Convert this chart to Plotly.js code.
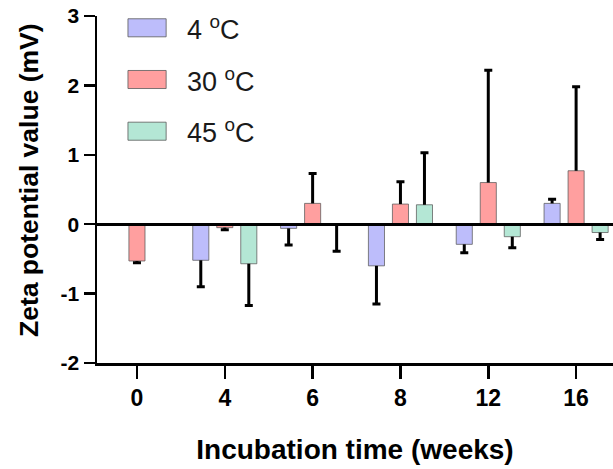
<!DOCTYPE html>
<html>
<head>
<meta charset="utf-8">
<script src="https://cdn.plot.ly/plotly-3.0.1.min.js"></script>
<style>html,body{margin:0;padding:0;background:#fff;}#chart{width:613px;height:469px;}</style>
</head>
<body>
<div id="chart"></div>
<script>
// ---- data ----
var weeks = ['0', '4', '6', '8', '12', '16'];
var yTickVals = [-2, -1, 0, 1, 2, 3];
var yTickText = ['-2', '-1', '0', '1', '2', '3'];
var seriesNames = ['4 <sup>o</sup>C', '30 <sup>o</sup>C', '45 <sup>o</sup>C'];
var mean4  = [null, -0.52, -0.06, -0.60, -0.29, 0.30];
var err4   = [null,  0.38,  0.24,  0.55,  0.12, 0.06];
var mean30 = [-0.53, -0.05, 0.30, 0.29, 0.60, 0.77];
var err30  = [ 0.025, 0.03, 0.43, 0.32, 1.62, 1.21];
var mean45 = [null, -0.57, -0.01, 0.28, -0.18, -0.12];
var err45  = [null,  0.60,  0.38, 0.75,  0.16,  0.10];
var fills  = ['#bdbdfb', '#ff9f9f', '#b4e7d5'];

var means = [mean4, mean30, mean45];
var errs = [err4, err30, err45];

var traces = [];
var capTraces = [];
means.forEach(function (m, i) {
  var e = errs[i];
  var up = m.map(function (v, k) { return v === null ? null : (v >= 0 ? e[k] : 0); });
  var dn = m.map(function (v, k) { return v === null ? null : (v < 0 ? e[k] : 0); });
  var tips = m.map(function (v, k) { return v === null ? null : (v >= 0 ? v + e[k] : v - e[k]); });
  var zeros = m.map(function () { return 0; });
  traces.push({
    type: 'bar', name: seriesNames[i], x: weeks, y: m, offsetgroup: String(i),
    marker: { color: fills[i], line: { color: 'rgba(90,90,90,0.75)', width: 1 } },
    error_y: { type: 'data', symmetric: false, array: up, arrayminus: dn, color: '#000', thickness: 3, width: 0 },
    showlegend: false, hoverinfo: 'skip'
  });
  capTraces.push({
    type: 'bar', x: weeks, y: tips, offsetgroup: String(i),
    marker: { color: 'rgba(0,0,0,0)', line: { width: 0 } },
    error_y: { type: 'data', symmetric: false, array: zeros, arrayminus: zeros, color: '#000', thickness: 3, width: 4 },
    showlegend: false, hoverinfo: 'skip'
  });
});

var FONT = 'Liberation Sans, Arial, sans-serif';

// manual legend (swatches + labels)
var shapes = [];
var annotations = [];
var legendY = [0.966, 0.817, 0.668];
seriesNames.forEach(function (n, i) {
  shapes.push({
    type: 'rect', xref: 'paper', yref: 'paper',
    x0: 0.060, x1: 0.134, y0: legendY[i] - 0.026, y1: legendY[i] + 0.026,
    fillcolor: fills[i], line: { color: 'rgba(90,90,90,0.8)', width: 1 }
  });
  annotations.push({
    xref: 'paper', yref: 'paper', x: 0.170, y: legendY[i], xanchor: 'left', yanchor: 'middle',
    text: n, showarrow: false,
    font: { family: FONT, size: 27, color: '#1a1a1a' }
  });
});
// y-axis title placed where the reference draws it
annotations.push({
  xref: 'paper', yref: 'paper', x: -0.132, y: 0.527, xanchor: 'center', yanchor: 'middle',
  textangle: -90, text: '<b>Zeta potential value (mV)</b>', showarrow: false,
  font: { family: FONT, size: 26.5, color: '#000' }
});

var layout = {
  width: 613, height: 469,
  margin: { l: 97, r: 0, t: 16, b: 106 },
  paper_bgcolor: '#fff', plot_bgcolor: '#fff',
  barmode: 'group', bargap: 0.18, bargroupgap: 0.33,
  showlegend: false,
  font: { family: FONT, color: '#000', size: 23 },
  xaxis: {
    type: 'category', range: [-0.455, 5.42],
    tickvals: weeks, ticktext: weeks.map(function (w) { return '<b>' + w + '</b>'; }),
    showline: true, linecolor: '#000', linewidth: 2.5,
    ticks: 'outside', ticklen: 13, tickwidth: 2.5, tickcolor: '#000',
    showgrid: false, zeroline: false,
    tickfont: { family: FONT, size: 23, color: '#000' },
    title: { text: '<b>Incubation time (weeks)</b>', standoff: 30,
      font: { family: FONT, size: 28, color: '#000' } }
  },
  yaxis: {
    range: [-2, 3], tickvals: yTickVals,
    ticktext: yTickText.map(function (t) { return '<b>' + t + '</b>'; }),
    showline: true, linecolor: '#000', linewidth: 2.5,
    ticks: 'outside', ticklen: 11, tickwidth: 2.5, tickcolor: '#000',
    showgrid: false, zeroline: true, zerolinecolor: '#000', zerolinewidth: 3,
    zerolinelayer: 'above traces',
    tickfont: { family: FONT, size: 21, color: '#000' }
  },
  shapes: shapes,
  annotations: annotations
};

Plotly.newPlot('chart', traces.concat(capTraces), layout, { staticPlot: true, displayModeBar: false });
</script>
</body>
</html>
